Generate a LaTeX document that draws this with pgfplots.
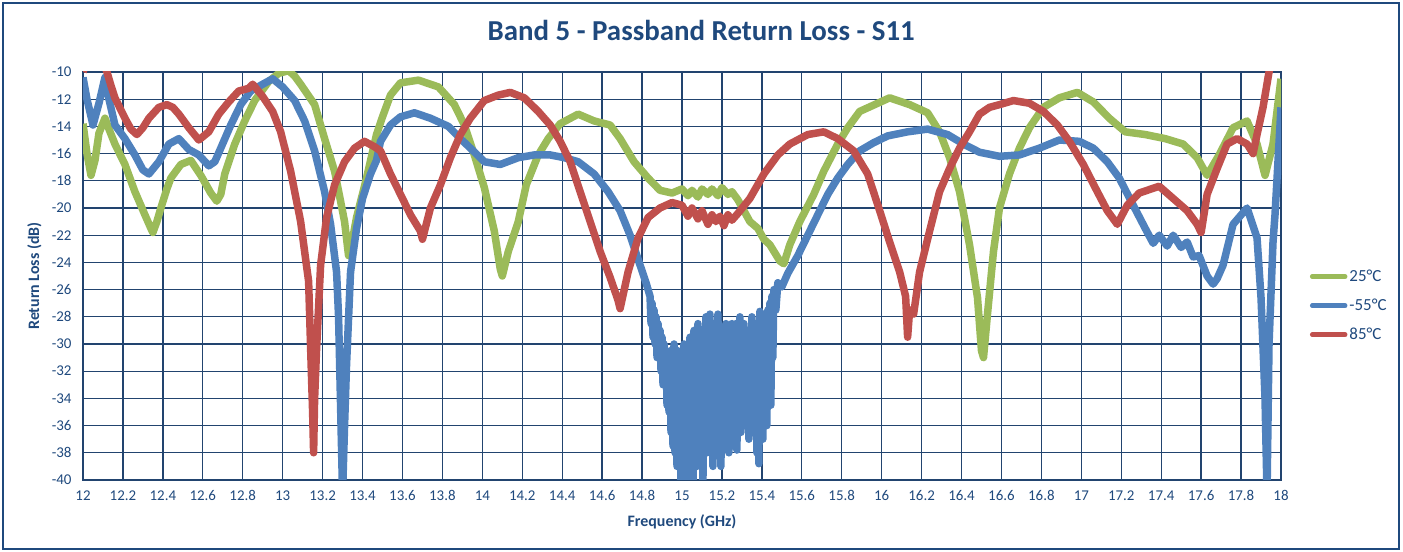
\documentclass[border=0pt]{standalone}
\usepackage{pgfplots}
\pgfplotsset{compat=1.18}
\usepackage{fontspec}
\setmainfont{Carlito}
\definecolor{txtblue}{HTML}{1F497D}
\definecolor{gridblue}{HTML}{22446F}
\definecolor{cgreen}{HTML}{9BBB59}
\definecolor{cblue}{HTML}{4F81BD}
\definecolor{cred}{HTML}{C0504D}
\begin{document}
\begin{tikzpicture}[x=1bp,y=1bp]
\path[use as bounding box] (0,0) rectangle (1403,552);
\draw[txtblue, line width=1.2bp] (3,3) rectangle (1399,549);
\begin{axis}[
  at={(83bp,72bp)}, anchor=south west,
  scale only axis, width=1198bp, height=408bp,
  xmin=12, xmax=18, ymin=-40, ymax=-10,
  xtick={12,12.2,...,18.01}, ytick={-40,-38,...,-10},
  grid=major, major grid style={gridblue, line width=1.3bp},
  axis line style={gridblue, line width=1.3bp},
  tick style={draw=none},
  /pgf/number format/assume math mode=true,
  /pgf/number format/precision=1,
  ticklabel style={font=\fontsize{15}{17}\selectfont, text=txtblue},
  xticklabel style={yshift=-7bp},
  yticklabel style={xshift=-8bp},
  xlabel={Frequency (GHz)}, ylabel={Return Loss (dB)},
  label style={font=\fontsize{16}{19}\selectfont\bfseries, text=txtblue},
  xlabel style={at={(axis description cs:0.5,0)}, anchor=base, yshift=-47bp},
  ylabel style={at={(axis description cs:0,0.5)}, anchor=base, yshift=44bp},
  title={Band 5 - Passband Return Loss - S11},
  title style={font=\fontsize{29}{34}\selectfont\bfseries, text=txtblue, at={(axis description cs:0.516,1)}, anchor=base, yshift=26bp},
  legend style={at={(axis description cs:1.024,0.52)}, anchor=north west, draw=none, fill=none,
    font=\fontsize{17}{20}\selectfont, text=txtblue, row sep=12bp, inner sep=0pt,
    legend cell align=left},
  legend image code/.code={\draw[#1, line width=4.5bp, line cap=round] (0bp,0bp) -- (33bp,0bp);},
  every axis plot/.append style={line width=7.5bp, line join=round},
]
\addplot[cgreen] coordinates {
(12.00,-13.8) (12.02,-16.0) (12.04,-17.6) (12.06,-16.5) (12.08,-14.5) (12.11,-13.4) (12.13,-14.2) (12.16,-15.3) (12.21,-16.8) (12.26,-18.8) (12.31,-20.5) (12.34,-21.5) (12.35,-21.8) (12.37,-21.0) (12.39,-20.0) (12.42,-18.6) (12.44,-17.8) (12.49,-16.8) (12.54,-16.5) (12.59,-17.6) (12.64,-18.9) (12.67,-19.5) (12.69,-19.0) (12.71,-17.5) (12.76,-15.3) (12.81,-13.6) (12.86,-12.1) (12.93,-10.7) (12.98,-10.1) (13.03,-9.9) (13.06,-10.3) (13.09,-10.9) (13.16,-12.4) (13.21,-14.9) (13.26,-17.3) (13.29,-19.5) (13.31,-21.0) (13.33,-23.5) (13.35,-22.3) (13.37,-20.7) (13.42,-17.8) (13.47,-14.6) (13.50,-13.3) (13.54,-11.7) (13.59,-10.8) (13.68,-10.6) (13.78,-11.1) (13.86,-12.4) (13.91,-13.9) (13.96,-16.1) (14.01,-18.5) (14.06,-21.7) (14.09,-24.5) (14.10,-25.0) (14.13,-23.2) (14.18,-21.0) (14.22,-18.3) (14.28,-16.1) (14.33,-14.9) (14.39,-13.8) (14.48,-13.1) (14.56,-13.6) (14.64,-13.9) (14.69,-14.9) (14.76,-16.6) (14.83,-17.8) (14.89,-18.7) (14.95,-18.9) (15.00,-18.6) (15.03,-19.1) (15.05,-18.7) (15.08,-19.2) (15.10,-18.6) (15.13,-19.0) (15.15,-18.6) (15.18,-19.1) (15.20,-18.5) (15.23,-19.0) (15.25,-18.8) (15.28,-19.4) (15.31,-20.2) (15.34,-21.0) (15.38,-21.5) (15.41,-22.3) (15.44,-22.7) (15.49,-23.9) (15.51,-24.1) (15.54,-22.7) (15.59,-21.0) (15.66,-19.0) (15.71,-17.3) (15.78,-15.3) (15.83,-14.1) (15.89,-12.9) (15.98,-12.3) (16.04,-11.9) (16.14,-12.4) (16.23,-13.0) (16.29,-14.4) (16.34,-16.3) (16.39,-18.8) (16.44,-22.7) (16.48,-26.6) (16.50,-30.5) (16.51,-31.0) (16.53,-27.8) (16.56,-23.2) (16.59,-20.0) (16.64,-17.5) (16.69,-15.6) (16.74,-14.1) (16.81,-12.6) (16.89,-11.9) (16.98,-11.5) (17.06,-12.2) (17.14,-13.4) (17.22,-14.4) (17.32,-14.6) (17.42,-14.9) (17.51,-15.3) (17.58,-16.3) (17.63,-17.6) (17.69,-16.1) (17.76,-14.1) (17.83,-13.6) (17.88,-15.3) (17.92,-17.6) (17.96,-15.3) (18.00,-10.5)
};
\addlegendentry{25°C}
\addplot[cblue] coordinates {
(12.00,-10.4) (12.02,-12.0) (12.05,-13.9) (12.08,-12.3) (12.11,-10.4) (12.13,-12.0) (12.16,-13.9) (12.21,-14.9) (12.26,-16.1) (12.30,-17.2) (12.33,-17.5) (12.38,-16.6) (12.43,-15.3) (12.48,-14.9) (12.53,-15.7) (12.58,-16.1) (12.63,-16.9) (12.66,-16.6) (12.69,-15.6) (12.74,-13.9) (12.79,-12.4) (12.84,-11.4) (12.90,-10.9) (12.95,-10.5) (13.00,-11.1) (13.06,-12.1) (13.11,-13.6) (13.16,-15.8) (13.21,-18.8) (13.24,-21.2) (13.27,-24.7) (13.28,-28.0) (13.30,-41) (13.31,-36) (13.32,-31.5) (13.34,-24.7) (13.37,-21.5) (13.40,-19.3) (13.44,-17.5) (13.47,-16.5) (13.49,-15.1) (13.54,-13.9) (13.59,-13.3) (13.66,-13.0) (13.74,-13.4) (13.83,-14.0) (13.89,-14.9) (13.94,-15.6) (14.01,-16.6) (14.09,-16.8) (14.18,-16.3) (14.26,-16.1) (14.34,-16.1) (14.41,-16.3) (14.48,-16.6) (14.56,-17.5) (14.63,-18.8) (14.69,-20.2) (14.74,-22.0) (14.79,-24.2) (14.82,-25.5)
(14.840,-26.5) (14.845,-28.5) (14.850,-27.0) (14.855,-29.5) (14.860,-27.5) (14.865,-30.0) (14.870,-28.0) (14.875,-31.0) (14.880,-28.5) (14.885,-30.5) (14.890,-29.0) (14.895,-32.0) (14.900,-29.5) (14.905,-33.0) (14.910,-30.0) (14.915,-32.5) (14.920,-30.5) (14.925,-34.5) (14.930,-31.0) (14.935,-35.0) (14.940,-30.5) (14.945,-36.5) (14.950,-31.5) (14.955,-37.5) (14.960,-30.0) (14.965,-38.0) (14.970,-31.0) (14.975,-39.0) (14.980,-30.5) (14.985,-37.0) (14.990,-32.0) (14.995,-40.5) (15.000,-31.0) (15.005,-38.5) (15.010,-30.0) (15.015,-40.5) (15.020,-30.5) (15.025,-37.5) (15.030,-31.5) (15.035,-39.5) (15.040,-29.5) (15.045,-36.5) (15.050,-30.5) (15.055,-40.5) (15.060,-29.0) (15.065,-37.0) (15.070,-31.0) (15.075,-39.0) (15.080,-28.5) (15.085,-36.0) (15.090,-30.0) (15.095,-38.5) (15.100,-29.0) (15.105,-40.0) (15.110,-30.5) (15.115,-36.5) (15.120,-28.0) (15.125,-38.0) (15.130,-30.0) (15.135,-35.5) (15.140,-27.8) (15.145,-37.5) (15.150,-29.5) (15.155,-39.0) (15.160,-28.5) (15.165,-35.0) (15.170,-30.5) (15.175,-38.0) (15.180,-27.8) (15.185,-36.5) (15.190,-29.5) (15.195,-39.0) (15.200,-29.0) (15.205,-35.0) (15.210,-30.5) (15.215,-37.5) (15.220,-28.5) (15.225,-34.5) (15.230,-31.0) (15.235,-38.0) (15.240,-29.5) (15.245,-36.0) (15.250,-28.5) (15.255,-37.5) (15.260,-30.0) (15.265,-34.0) (15.270,-28.5) (15.275,-37.8) (15.280,-30.5) (15.285,-35.0) (15.290,-28.0) (15.295,-36.5) (15.300,-29.5) (15.305,-34.5) (15.310,-28.5) (15.315,-36.0) (15.320,-30.0) (15.325,-33.5) (15.330,-29.0) (15.335,-37.0) (15.340,-29.5) (15.345,-34.0) (15.350,-28.0) (15.355,-36.5) (15.360,-29.5) (15.365,-35.0) (15.370,-28.5) (15.375,-38.0) (15.380,-29.0) (15.385,-38.8) (15.390,-27.6) (15.395,-35.5) (15.400,-28.5) (15.405,-37.0) (15.410,-27.8) (15.415,-34.0) (15.420,-28.0) (15.425,-36.0) (15.430,-27.5) (15.435,-33.0) (15.440,-27.0) (15.445,-34.5) (15.450,-26.5) (15.455,-31.0) (15.460,-26.0) (15.470,-27.5) (15.480,-25.5)
(15.50,-25.8) (15.53,-24.8) (15.58,-23.5) (15.63,-22.0) (15.68,-20.5) (15.73,-19.0) (15.78,-17.8) (15.83,-16.8) (15.89,-15.8) (15.96,-15.2) (16.03,-14.7) (16.13,-14.4) (16.23,-14.2) (16.33,-14.6) (16.41,-15.3) (16.49,-15.9) (16.59,-16.2) (16.69,-16.1) (16.79,-15.6) (16.89,-15.0) (16.99,-15.1) (17.06,-15.6) (17.13,-16.6) (17.19,-17.8) (17.26,-19.8) (17.32,-21.5) (17.36,-22.6) (17.39,-22.0) (17.43,-22.8) (17.46,-22.0) (17.50,-22.9) (17.53,-22.5) (17.56,-23.6) (17.59,-23.5) (17.63,-25.0) (17.66,-25.6) (17.68,-25.2) (17.71,-24.2) (17.76,-21.2) (17.83,-20.0) (17.88,-22.2) (17.90,-26.6) (17.92,-34.0) (17.93,-41) (17.94,-30) (17.96,-22.5) (17.97,-20.5) (18.00,-12.6)
};
\addlegendentry{-55°C}
\addplot[cred] coordinates {
(12.00,-10.0) (12.01,-9.6) (12.05,-9.0) (12.10,-9.3) (12.12,-10.0) (12.14,-11.0) (12.16,-11.9) (12.21,-13.4) (12.24,-14.2) (12.27,-14.6) (12.30,-14.1) (12.33,-13.4) (12.38,-12.6) (12.42,-12.4) (12.45,-12.6) (12.48,-13.1) (12.53,-14.1) (12.58,-15.0) (12.63,-14.4) (12.68,-13.1) (12.73,-12.2) (12.78,-11.4) (12.83,-11.2) (12.85,-10.9) (12.90,-11.8) (12.95,-12.9) (12.99,-14.4) (13.04,-17.3) (13.09,-21.0) (13.13,-25.4) (13.14,-30.3) (13.15,-35.0) (13.155,-38.0) (13.16,-34.0) (13.17,-30.3) (13.19,-24.2) (13.22,-20.7) (13.26,-18.3) (13.31,-16.6) (13.36,-15.6) (13.41,-15.1) (13.46,-15.5) (13.49,-15.8) (13.54,-17.5) (13.59,-19.0) (13.64,-20.5) (13.69,-21.7) (13.70,-22.3) (13.74,-20.0) (13.79,-18.3) (13.84,-16.3) (13.89,-14.6) (13.94,-13.4) (14.01,-12.1) (14.08,-11.7) (14.14,-11.5) (14.21,-11.9) (14.28,-12.9) (14.34,-13.9) (14.39,-15.1) (14.44,-16.6) (14.49,-18.8) (14.54,-21.0) (14.59,-23.2) (14.64,-25.1) (14.68,-26.8) (14.69,-27.4) (14.73,-24.7) (14.78,-22.2) (14.83,-20.7) (14.89,-20.0) (14.95,-19.6) (15.00,-19.8) (15.03,-20.6) (15.05,-20.0) (15.08,-20.8) (15.10,-20.2) (15.13,-21.2) (15.15,-20.5) (15.17,-21.0) (15.19,-20.6) (15.21,-21.3) (15.23,-20.5) (15.25,-20.9) (15.28,-20.4) (15.34,-19.3) (15.41,-17.5) (15.48,-16.1) (15.54,-15.3) (15.63,-14.6) (15.71,-14.4) (15.78,-14.9) (15.86,-15.8) (15.93,-17.5) (15.99,-20.2) (16.04,-22.5) (16.09,-24.7) (16.12,-26.5) (16.13,-29.5) (16.14,-27.5) (16.16,-27.8) (16.19,-24.7) (16.24,-21.7) (16.29,-18.8) (16.34,-17.1) (16.39,-15.6) (16.44,-14.4) (16.49,-13.1) (16.54,-12.6) (16.59,-12.4) (16.66,-12.1) (16.74,-12.3) (16.81,-12.9) (16.88,-13.9) (16.94,-15.1) (17.01,-16.8) (17.08,-18.8) (17.13,-20.2) (17.18,-21.2) (17.23,-19.8) (17.29,-18.9) (17.35,-18.6) (17.39,-18.4) (17.46,-19.3) (17.53,-20.2) (17.58,-21.2) (17.60,-21.8) (17.63,-19.0) (17.68,-17.1) (17.73,-15.3) (17.78,-14.9) (17.83,-15.3) (17.86,-16.0) (17.88,-14.6) (17.91,-12.6) (17.94,-10.0) (17.96,-8.8)
};
\addlegendentry{85°C}
\end{axis}
\end{tikzpicture}
\end{document}
